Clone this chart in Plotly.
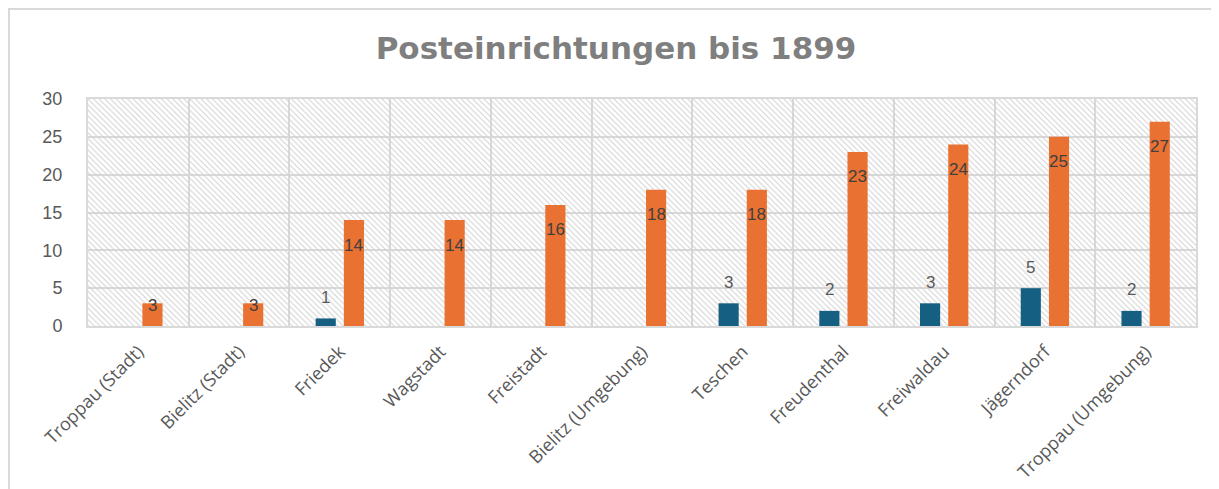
import plotly.graph_objects as go

categories = ["Troppau (Stadt)", "Bielitz (Stadt)", "Friedek", "Wagstadt", "Freistadt",
              "Bielitz (Umgebung)", "Teschen", "Freudenthal", "Freiwaldau", "Jägerndorf",
              "Troppau (Umgebung)"]
series_blue = [0, 0, 1, 0, 0, 0, 3, 2, 3, 5, 2]
series_orange = [3, 3, 14, 14, 16, 18, 18, 23, 24, 25, 27]
y_ticks = [0, 5, 10, 15, 20, 25, 30]
title_text = "Posteinrichtungen bis 1899"

BLUE = "#156082"
ORANGE = "#E97132"
GRID = "#d9d9d9"
Y_MAX = y_ticks[-1]

# page body has an 8px default margin; compensate in layout
OFF_X, OFF_Y = 8, 8
W, H = 1219, 489
PL, PR, PT, PB = 88 - OFF_X, 1196 - OFF_X, 99 - OFF_Y, 326 - OFF_Y  # plot box in figure px

fig = go.Figure()

# hatched plot background
fig.add_trace(go.Bar(
    x=categories, y=[Y_MAX] * len(categories), width=1,
    marker=dict(color="rgba(0,0,0,0)", line=dict(width=0),
                pattern=dict(shape="\\", size=4, solidity=0.25, fgcolor="#d0d0d0",
                             fillmode="replace")),
    hoverinfo="skip", showlegend=False))

fig.add_trace(go.Bar(x=categories, y=series_blue, width=0.2, offset=-0.24,
                     marker=dict(color=BLUE, line=dict(width=0)), showlegend=False))
fig.add_trace(go.Bar(x=categories, y=series_orange, width=0.2, offset=0.04,
                     marker=dict(color=ORANGE, line=dict(width=0)), showlegend=False))

annotations = []
for c, v in zip(categories, series_blue):
    if v:
        annotations.append(dict(x=c, y=v, xref="x", yref="y", text=str(v), showarrow=False,
                                xshift=-14, yshift=21, yanchor="middle",
                                font=dict(family="Liberation Sans", size=17, color="#595959")))
for c, v in zip(categories, series_orange):
    annotations.append(dict(x=c, y=v, xref="x", yref="y", text=str(v), showarrow=False,
                            xshift=14, yshift=(-25 if v >= 5 else -2), yanchor="middle",
                            font=dict(family="Liberation Sans", size=17, color="#404040")))

pw, ph = PR - PL, PB - PT
frame = [dict(type="rect", xref="paper", yref="paper",
              x0=(1 - PL) / pw, x1=1.3, y0=-1.5, y1=(PB - 1) / ph,
              line=dict(color=GRID, width=2), fillcolor="rgba(0,0,0,0)", layer="below")]

fig.update_layout(
    width=W, height=H,
    margin=dict(l=PL, r=W - PR, t=PT, b=H - PB, autoexpand=False),
    paper_bgcolor="white", plot_bgcolor="white",
    barmode="overlay",
    title=dict(text=title_text, x=(616 - OFF_X) / W, xref="container", xanchor="center",
               y=1 - (48 - OFF_Y) / H, yref="container", yanchor="middle",
               font=dict(family="DejaVu Sans", size=31, color="#7f7f7f", weight="bold")),
    annotations=annotations,
    shapes=frame,
    showlegend=False,
)

fig.update_xaxes(
    type="category", tickson="boundaries", showgrid=True, gridcolor=GRID, gridwidth=2,
    showline=True, mirror=True, linecolor=GRID, linewidth=2,
    ticks="", tickangle=-45, ticklabelstandoff=6,
    tickfont=dict(family="Open Sans", size=18, color="#595959"),
    range=[-0.5, len(categories) - 0.5],
)
fig.update_yaxes(
    range=[0, Y_MAX], tickvals=y_ticks, showgrid=True, gridcolor=GRID, gridwidth=2,
    showline=True, mirror=True, linecolor=GRID, linewidth=2, zeroline=False,
    ticks="", ticklabelstandoff=20,
    tickfont=dict(family="Liberation Sans", size=18, color="#595959"),
)

fig.write_html("out.html")
